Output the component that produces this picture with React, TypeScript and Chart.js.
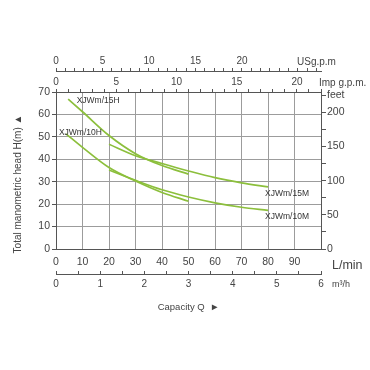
import React, { useEffect, useRef } from 'react';
import { Chart, registerables } from 'chart.js';

Chart.register(...registerables);

const FONT = '"Liberation Sans", Arial, sans-serif';

// Pump curves: capacity Q (L/min) vs total manometric head H (m)
const seriesNames = ['XJWm/15H', 'XJWm/15M', 'XJWm/10H', 'XJWm/10M'];
const flow15H = [4.6, 10, 20, 30, 40, 50];
const head15H = [66.8, 61.2, 50.6, 42.5, 37.2, 33.4];
const flow15M = [20, 30, 40, 50, 60, 70, 80];
const head15M = [46.7, 41.6, 38.1, 34.8, 31.8, 29.5, 27.7];
const flow10H = [3.8, 10, 20, 30, 40, 50];
const head10H = [51.3, 45.3, 36.3, 30.3, 25.2, 21.3];
const flow10M = [20, 30, 40, 50, 60, 70, 80];
const head10M = [35.2, 30.6, 26.4, 23.2, 20.6, 18.6, 17.2];

// where the series names sit (data units: L/min, m)
const labelFlow = [7.8, 78.9, 1.1, 78.9];
const labelHead = [66.1, 24.5, 51.9, 14.5];

// axes / ticks
const lpmTicks = [0, 10, 20, 30, 40, 50, 60, 70, 80, 90];
const headTicks = [0, 10, 20, 30, 40, 50, 60, 70];
const feetTicks = [0, 25, 50, 75, 100, 125, 150, 175, 200, 225];
const feetLabels = ['0', '', '50', '', '100', '', '150', '', '200', 'feet'];
const impTicks = [0, 1, 2, 3, 4, 5, 6, 7, 8, 9, 10, 11, 12, 13, 14, 15, 16, 17, 18, 19, 20, 21, 22];
const impLabels = [0, 5, 10, 15, 20];
const usTicks = [0, 1, 2, 3, 4, 5, 6, 7, 8, 9, 10, 11, 12, 13, 14, 15, 16, 17, 18, 19, 20, 21, 22, 23, 24, 25, 26, 27, 28];
const usLabels = [0, 5, 10, 15, 20];
const m3hTicks = [0, 0.5, 1, 1.5, 2, 2.5, 3, 3.5, 4, 4.5, 5, 5.5, 6];

const LPM_MAX = 100;
const HEAD_MAX = 70;
const FEET_MAX = HEAD_MAX / 0.3048;
const IMP_MAX = LPM_MAX / 4.546;
const US_MAX = 28.5;
const M3H_MAX = 6;

const LINE_COLOR = '#8cbf3c';
const GRID = '#9c9c9c';
const AXIS = '#555555';
const TXT = '#444444';

const toPoints = (xs: number[], ys: number[]) => xs.map((x, i) => ({ x, y: ys[i] }));

const extraText = {
  id: 'extraText',
  afterDraw(chart: any) {
    const { ctx, chartArea } = chart;
    const sx = chart.scales.x;
    const sy = chart.scales.y;
    ctx.save();
    // series names
    ctx.fillStyle = '#333';
    ctx.font = `8.5px ${FONT}`;
    ctx.textAlign = 'left';
    ctx.textBaseline = 'middle';
    seriesNames.forEach((n, i) => {
      ctx.fillText(n, sx.getPixelForValue(labelFlow[i]), sy.getPixelForValue(labelHead[i]));
    });
    // unit labels
    ctx.fillStyle = TXT;
    ctx.font = `10px ${FONT}`;
    ctx.fillText('USg.p.m', chartArea.right - 24, chart.scales.xus.bottom - 9);
    ctx.fillText('Imp g.p.m.', chartArea.right - 2, chart.scales.ximp.bottom - 9);
    ctx.font = `12.5px ${FONT}`;
    ctx.fillText('L/min', chartArea.right + 11, chartArea.bottom + 17);
    ctx.font = `9px ${FONT}`;
    ctx.fillText('m³/h', chartArea.right + 11, chart.scales.xm3.top + 11);
    // axis titles
    ctx.font = `9.5px ${FONT}`;
    ctx.textAlign = 'center';
    ctx.fillText('Capacity Q  ►', (chartArea.left + chartArea.right) / 2, chart.scales.xm3.top + 33);
    ctx.translate(18, 184);
    ctx.rotate(-Math.PI / 2);
    ctx.font = `10px ${FONT}`;
    ctx.fillText('Total manometric head H(m) ▲', 0, 0);
    ctx.restore();
  },
};

export default function App() {
  const ref = useRef<HTMLCanvasElement | null>(null);

  useEffect(() => {
    if (!ref.current) return;
    const ds = (xs: number[], ys: number[]) => ({
      data: toPoints(xs, ys),
      borderColor: LINE_COLOR,
      borderWidth: 1.7,
      pointRadius: 0,
      fill: false,
      cubicInterpolationMode: 'monotone' as const,
      xAxisID: 'x',
      yAxisID: 'y',
    });
    const tickFont = (size: number) => ({ family: FONT, size });
    const chart = new Chart(ref.current, {
      type: 'line',
      data: {
        datasets: [ds(flow15H, head15H), ds(flow15M, head15M), ds(flow10H, head10H), ds(flow10M, head10M)],
      },
      options: {
        animation: false,
        responsive: false,
        maintainAspectRatio: false,
        layout: { padding: 0 },
        plugins: { legend: { display: false }, tooltip: { enabled: false } },
        scales: {
          x: {
            type: 'linear',
            position: 'bottom',
            weight: 0,
            min: 0,
            max: LPM_MAX,
            afterBuildTicks: (s: any) => { s.ticks = lpmTicks.map((v) => ({ value: v })); },
            afterFit: (s: any) => { s.height = 25; },
            grid: { color: GRID, drawTicks: false },
            border: { color: AXIS },
            ticks: { padding: 7, color: TXT, font: tickFont(10.5), maxRotation: 0, autoSkip: false },
          },
          xm3: {
            type: 'linear',
            position: 'bottom',
            weight: 1,
            min: 0,
            max: M3H_MAX,
            afterBuildTicks: (s: any) => { s.ticks = m3hTicks.map((v) => ({ value: v })); },
            afterFit: (s: any) => { s.height = 96; },
            grid: { drawOnChartArea: false, tickLength: -3, tickColor: AXIS },
            border: { color: AXIS },
            ticks: {
              padding: 7, color: TXT, font: tickFont(10), maxRotation: 0, autoSkip: false,
              callback: (v: any) => (Number.isInteger(v) ? String(v) : ''),
            },
          },
          ximp: {
            type: 'linear',
            position: 'top',
            weight: 0,
            min: 0,
            max: IMP_MAX,
            afterBuildTicks: (s: any) => { s.ticks = impTicks.map((v) => ({ value: v })); },
            afterFit: (s: any) => { s.height = 21; },
            grid: { drawOnChartArea: false, tickLength: 3, tickColor: AXIS },
            border: { color: AXIS },
            ticks: {
              padding: 1, color: TXT, font: tickFont(10), maxRotation: 0, autoSkip: false,
              callback: (v: any) => (impLabels.includes(v) ? String(v) : ''),
            },
          },
          xus: {
            type: 'linear',
            position: 'top',
            weight: 1,
            min: 0,
            max: US_MAX,
            afterBuildTicks: (s: any) => { s.ticks = usTicks.map((v) => ({ value: v })); },
            afterFit: (s: any) => { s.height = 71; },
            grid: { drawOnChartArea: false, tickLength: 3, tickColor: AXIS },
            border: { color: AXIS },
            ticks: {
              padding: 1, color: TXT, font: tickFont(10), maxRotation: 0, autoSkip: false,
              callback: (v: any) => (usLabels.includes(v) ? String(v) : ''),
            },
          },
          y: {
            type: 'linear',
            position: 'left',
            min: 0,
            max: HEAD_MAX,
            afterBuildTicks: (s: any) => { s.ticks = headTicks.map((v) => ({ value: v })); },
            afterFit: (s: any) => { s.width = 56; },
            grid: { color: GRID, tickLength: 4, tickColor: AXIS },
            border: { color: AXIS },
            ticks: { padding: 2, color: TXT, font: tickFont(10.5), autoSkip: false },
          },
          yft: {
            type: 'linear',
            position: 'right',
            min: 0,
            max: FEET_MAX,
            afterBuildTicks: (s: any) => { s.ticks = feetTicks.map((v) => ({ value: v })); },
            afterFit: (s: any) => { s.width = 49; },
            grid: { drawOnChartArea: false, tickLength: 5, tickColor: AXIS },
            border: { color: AXIS },
            ticks: {
              padding: 1, color: TXT, font: tickFont(10.5), autoSkip: false,
              callback: (_v: any, i: number) => feetLabels[i],
            },
          },
        },
      },
      plugins: [extraText],
    });
    return () => chart.destroy();
  }, []);

  return (
    <div style={{ position: 'absolute', left: 0, top: 0, width: 370, height: 370, background: '#fff' }}>
      <canvas ref={ref} width={370} height={370} style={{ display: 'block' }} />
    </div>
  );
}
